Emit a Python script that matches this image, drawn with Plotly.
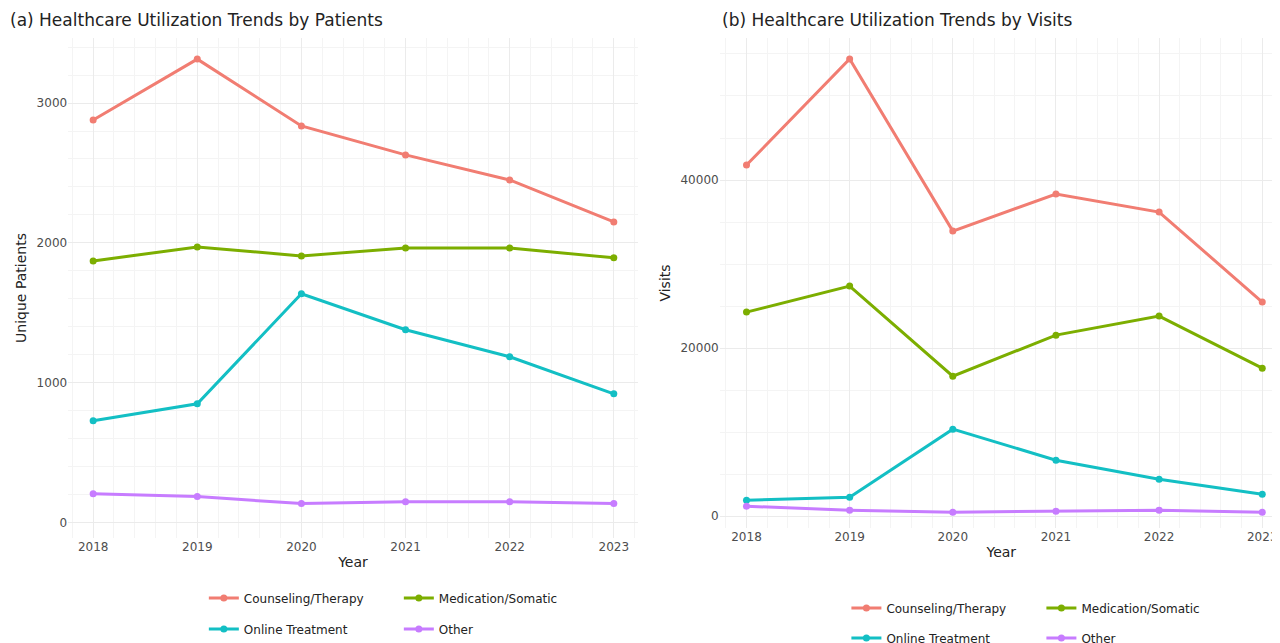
import plotly.graph_objects as go

years = [2018, 2019, 2020, 2021, 2022, 2023]
series = ["Counseling/Therapy", "Medication/Somatic", "Online Treatment", "Other"]
colors = ["#F17D72", "#7CAE00", "#13BFC4", "#C77CFF"]
patients = {
    "Counseling/Therapy": [2879, 3314, 2836, 2629, 2450, 2150],
    "Medication/Somatic": [1871, 1971, 1907, 1964, 1964, 1893],
    "Online Treatment": [729, 850, 1636, 1379, 1186, 921],
    "Other": [207, 186, 136, 150, 150, 136],
}
visits = {
    "Counseling/Therapy": [41786, 54405, 33929, 38333, 36190, 25476],
    "Medication/Somatic": [24286, 27381, 16667, 21548, 23810, 17619],
    "Online Treatment": [1905, 2262, 10357, 6667, 4405, 2619],
    "Other": [1190, 714, 476, 595, 714, 476],
}

left_legends = ["legend", "legend", "legend2", "legend2"]
right_legends = ["legend3", "legend3", "legend4", "legend4"]

fig = go.Figure()
for s, c, lg in zip(series, colors, left_legends):
    fig.add_trace(go.Scatter(x=years, y=patients[s], name=s, mode="lines+markers",
                             line=dict(color=c, width=3), marker=dict(size=7, color=c),
                             xaxis="x", yaxis="y", legend=lg))
for s, c, lg in zip(series, colors, right_legends):
    fig.add_trace(go.Scatter(x=years, y=visits[s], name=s, mode="lines+markers",
                             line=dict(color=c, width=3), marker=dict(size=7, color=c),
                             xaxis="x2", yaxis="y2", legend=lg))

ax = dict(showgrid=True, gridcolor="#EBEBEB", gridwidth=1, zeroline=False, showline=False,
          tickfont=dict(size=12, color="#4D4D4D"), ticks="",
          minor=dict(showgrid=True, gridcolor="#F4F4F4", gridwidth=1))
leg = dict(orientation="h", xanchor="left", yanchor="middle", entrywidth=150,
           font=dict(size=12), itemwidth=30, traceorder="normal")
fig.update_layout(
    width=1280, height=643, autosize=False, plot_bgcolor="white", paper_bgcolor="white",
    margin=dict(l=0, r=0, t=0, b=0, autoexpand=False),
    font=dict(family="DejaVu Sans", color="#222"),
    xaxis=dict(ax, domain=[0.047, 0.492], range=[2017.76, 2023.23], dtick=1,
               title=dict(text="Year", font=dict(size=14), standoff=4), anchor="y"),
    yaxis=dict(ax, domain=[113/643, 613/643], range=[-110, 3465], dtick=1000, tickformat="d",
               title=dict(text="Unique Patients", font=dict(size=14), standoff=6), anchor="x"),
    xaxis2=dict(ax, domain=[0.556, 0.996], range=[2017.74, 2023.2], dtick=1,
                title=dict(text="Year", font=dict(size=14), standoff=4), anchor="y2"),
    yaxis2=dict(ax, domain=[123/643, 613/643], range=[-1400, 56900], dtick=20000, tickformat="d",
                title=dict(text="Visits", font=dict(size=14), standoff=6), anchor="x2"),
    legend=dict(leg, x=0.153, y=1 - 590/643),
    legend2=dict(leg, x=0.153, y=1 - 621/643),
    legend3=dict(leg, x=0.655, y=1 - 600/643),
    legend4=dict(leg, x=0.655, y=1 - 630/643),
    showlegend=True,
    annotations=[
        dict(text="(a) Healthcare Utilization Trends by Patients", x=0.0, y=1.0, xref="paper",
             yref="paper", xanchor="left", yanchor="top", showarrow=False, font=dict(size=17)),
        dict(text="(b) Healthcare Utilization Trends by Visits", x=0.556, y=1.0, xref="paper",
             yref="paper", xanchor="left", yanchor="top", showarrow=False, font=dict(size=17)),
    ],
)
fig.write_html("out.html")
